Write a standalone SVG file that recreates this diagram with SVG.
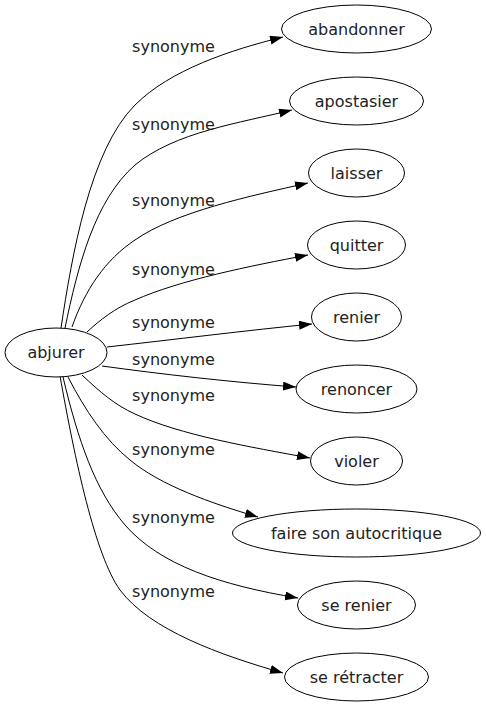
<svg xmlns="http://www.w3.org/2000/svg" width="486" height="707" viewBox="0 0 486 707">
<style>
.n ellipse{fill:#fff;stroke:#000;stroke-width:1}
text{font-family:"DejaVu Sans","Liberation Sans",sans-serif;font-size:16px;fill:#222;text-anchor:middle}
.e path{fill:none;stroke:#000;stroke-width:1;marker-end:url(#ah)}
</style>
<defs>
<marker id="ah" markerUnits="userSpaceOnUse" markerWidth="14" markerHeight="10" refX="13" refY="4.5" orient="auto">
<path d="M0,0 L13,4.5 L0,9 z" fill="#000"/>
</marker>
</defs>
<rect width="486" height="707" fill="#fff"/>
<g id="connectors" class="e">
<path d="M61,328 C72,255 90,150 135,105 C170,70 230,50 283,37"/>
<path d="M65,328 C78,265 95,200 135,165 C175,132 240,123 292,110"/>
<path d="M72,327 C85,290 105,260 135,240 C175,212 250,196 308,183"/>
<path d="M87,332 C100,320 115,308 135,300 C180,280 250,266 308,255"/>
<path d="M107,347 C170,340 250,330 312,324"/>
<path d="M102,366 C160,374 230,382 296,387"/>
<path d="M82,375 C100,392 115,405 135,414 C180,435 250,447 310,458"/>
<path d="M68,377 C85,410 105,440 130,460 C160,485 210,503 258,517"/>
<path d="M63,377 C78,440 95,490 125,525 C160,565 220,585 298,598"/>
<path d="M60,376 C75,460 95,555 120,590 C150,630 220,655 283,673"/>
</g>
<g id="edge-labels">
<text x="173.5" y="51.5">synonyme</text>
<text x="173.5" y="129.5">synonyme</text>
<text x="173.5" y="205.5">synonyme</text>
<text x="173.5" y="274.5">synonyme</text>
<text x="173.5" y="328">synonyme</text>
<text x="173.5" y="364.5">synonyme</text>
<text x="173.5" y="400.5">synonyme</text>
<text x="173.5" y="454.5">synonyme</text>
<text x="173.5" y="522.5">synonyme</text>
<text x="173.5" y="596.5">synonyme</text>
</g>
<g id="abjurer" class="n"><ellipse cx="56" cy="352.5" rx="51" ry="24.5"/><text x="56" y="358">abjurer</text></g>
<g id="abandonner" class="n"><ellipse cx="356.5" cy="29" rx="75" ry="24"/><text x="356.5" y="34.5">abandonner</text></g>
<g id="apostasier" class="n"><ellipse cx="356.5" cy="101" rx="67" ry="24"/><text x="356.5" y="106.5">apostasier</text></g>
<g id="laisser" class="n"><ellipse cx="356.5" cy="173" rx="48" ry="24"/><text x="356.5" y="178.5">laisser</text></g>
<g id="quitter" class="n"><ellipse cx="356.5" cy="245" rx="49" ry="24"/><text x="356.5" y="250.5">quitter</text></g>
<g id="renier" class="n"><ellipse cx="356.5" cy="317" rx="45" ry="24"/><text x="356.5" y="322.5">renier</text></g>
<g id="renoncer" class="n"><ellipse cx="356.5" cy="389" rx="60.5" ry="24"/><text x="356.5" y="394.5">renoncer</text></g>
<g id="violer" class="n"><ellipse cx="356.5" cy="461" rx="46" ry="24"/><text x="356.5" y="466.5">violer</text></g>
<g id="faire-son-autocritique" class="n"><ellipse cx="356.5" cy="533" rx="124" ry="24"/><text x="356.5" y="538.5">faire son autocritique</text></g>
<g id="se-renier" class="n"><ellipse cx="356.5" cy="605" rx="59" ry="24"/><text x="356.5" y="610.5">se renier</text></g>
<g id="se-retracter" class="n"><ellipse cx="356.5" cy="677" rx="72" ry="24"/><text x="356.5" y="682.5">se rétracter</text></g>
</svg>
